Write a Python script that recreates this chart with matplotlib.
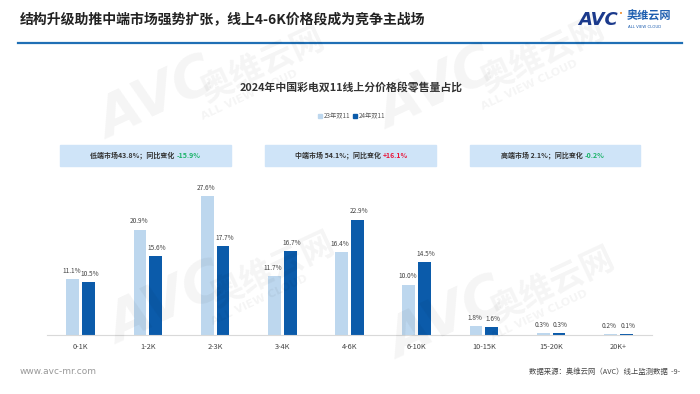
import matplotlib
matplotlib.use('Agg')
import matplotlib.pyplot as plt
from matplotlib.patches import Rectangle

plt.rcParams['font.family'] = ['Noto Sans CJK SC', 'DejaVu Sans']

# DATA
cats = ['0-1K', '1-2K', '2-3K', '3-4K', '4-6K', '6-10K', '10-15K', '15-20K', '20K+']
v23 = [11.1, 20.9, 27.6, 11.7, 16.4, 10.0, 1.8, 0.3, 0.2]
v24 = [10.5, 15.6, 17.7, 16.7, 22.9, 14.5, 1.6, 0.3, 0.1]
series = ['23年双11', '24年双11']
seg_names = ['低端市场43.8%；同比变化 ', '中端市场 54.1%；同比变化 ', '高端市场 2.1%；同比变化 ']
seg_change = ['-15.9%', '+16.1%', '-0.2%']

light = '#BDD7EE'
dark = '#0B5BAA'
W, H = 700, 394

fig = plt.figure(figsize=(7, 3.94), dpi=100)
fig.patch.set_facecolor('white')

def px(x, y):
    return x / W, 1 - y / H

# watermarks
def watermark(x, y):
    fig.text(*px(x, y), 'AVC', fontsize=40, fontweight='bold', style='italic',
             color='#000000', alpha=0.045, rotation=25, ha='left', va='center',
             family='DejaVu Sans')
    fig.text(*px(x + 105, y - 35), '奥维云网', fontsize=24, fontweight='bold',
             color='#000000', alpha=0.045, rotation=25, ha='left', va='center')
    fig.text(*px(x + 110, y - 5), 'ALL VIEW CLOUD', fontsize=8, fontweight='bold',
             color='#000000', alpha=0.045, rotation=25, ha='left', va='center',
             family='DejaVu Sans')

for wx, wy in [(90, 100), (370, 90), (100, 305), (380, 320)]:
    watermark(wx, wy)

# header
fig.text(*px(20, 19), '结构升级助推中端市场强势扩张，线上4-6K价格段成为竞争主战场',
         fontsize=10, fontweight='bold', color='#222222', ha='left', va='center')
fig.add_artist(plt.Line2D([18 / W, 682 / W], [1 - 43 / H] * 2, color='#1F6FB5', lw=1.6))

# logo
fig.text(*px(578, 20), 'AVC', fontsize=13, fontweight='bold', style='italic',
         color='#1B3A8C', ha='left', va='center', family='DejaVu Sans')
fig.text(*px(619, 14), '•', fontsize=5, color='#F08A24', ha='left', va='center',
         family='DejaVu Sans')
fig.text(*px(627, 16), '奥维云网', fontsize=8, fontweight='bold',
         color='#1F5FB0', ha='left', va='center')
fig.text(*px(628, 27), 'ALL VIEW CLOUD', fontsize=2.8, color='#1F5FB0',
         ha='left', va='center', family='DejaVu Sans')

# chart title
fig.text(*px(351, 88), '2024年中国彩电双11线上分价格段零售量占比',
         fontsize=7.8, fontweight='bold', color='#333333', ha='center', va='center')

# legend
for lx, lab, c in [(318, series[0], light), (353, series[1], dark)]:
    fig.add_artist(Rectangle(px(lx, 118), 4 / W, 4 / H, color=c, transform=fig.transFigure))
    fig.text(*px(lx + 6, 116), lab, fontsize=4.5, color='#555555', ha='left', va='center')

# segment boxes
boxes = [(60, 231), (265, 436), (470, 640)]
for (x0, x1), name, ch in zip(boxes, seg_names, seg_change):
    fig.add_artist(Rectangle(px(x0, 166), (x1 - x0) / W, 21 / H, color='#CFE4F8',
                             transform=fig.transFigure, zorder=1))
    col = '#E8173B' if ch.startswith('+') else '#1DB36B'
    t = fig.text(*px((x0 + x1) / 2 - 12, 155), name, fontsize=5, fontweight='bold',
                 color='#333333', ha='center', va='center')
    fig.canvas.draw()
    bb = t.get_window_extent()
    fig.text(bb.x1 / W, 1 - 155 / H, ch, fontsize=5, fontweight='bold',
             color=col, ha='left', va='center')

# bars
ax = fig.add_axes([47 / W, 59 / H, 605 / W, 151.2 / H])
x = list(range(len(cats)))
off = 0.117
bw = 0.19
b1 = ax.bar([i - off for i in x], v23, bw, color=light)
b2 = ax.bar([i + off for i in x], v24, bw, color=dark)
for bars, vals, dx in [(b1, v23, -1), (b2, v24, 1)]:
    for b, v in zip(bars, vals):
        ax.annotate(f'{v:.1f}%', (b.get_x() + b.get_width() / 2, v),
                    xytext=(dx, 3), textcoords='offset points', ha='center',
                    va='bottom', fontsize=4.7, color='#444444', annotation_clip=False)

ax.set_xlim(-0.5, len(cats) - 0.5)
ax.set_ylim(0, 30)
ax.set_xticks(x)
ax.set_xticklabels(cats, fontsize=5.3, color='#444444')
ax.tick_params(axis='x', length=0, pad=6)
ax.set_yticks([])
for s in ['top', 'right', 'left']:
    ax.spines[s].set_visible(False)
ax.spines['bottom'].set_color('#D9D9D9')
ax.patch.set_alpha(0)

# footer
fig.text(*px(20, 372), 'www.avc-mr.com', fontsize=6.5, color='#999999',
         ha='left', va='center', family='DejaVu Sans')
fig.text(*px(680, 372), '数据来源：奥维云网（AVC）线上监测数据  -9-', fontsize=5.3,
         color='#444444', ha='right', va='center')

fig.savefig('out.png', dpi=100)
